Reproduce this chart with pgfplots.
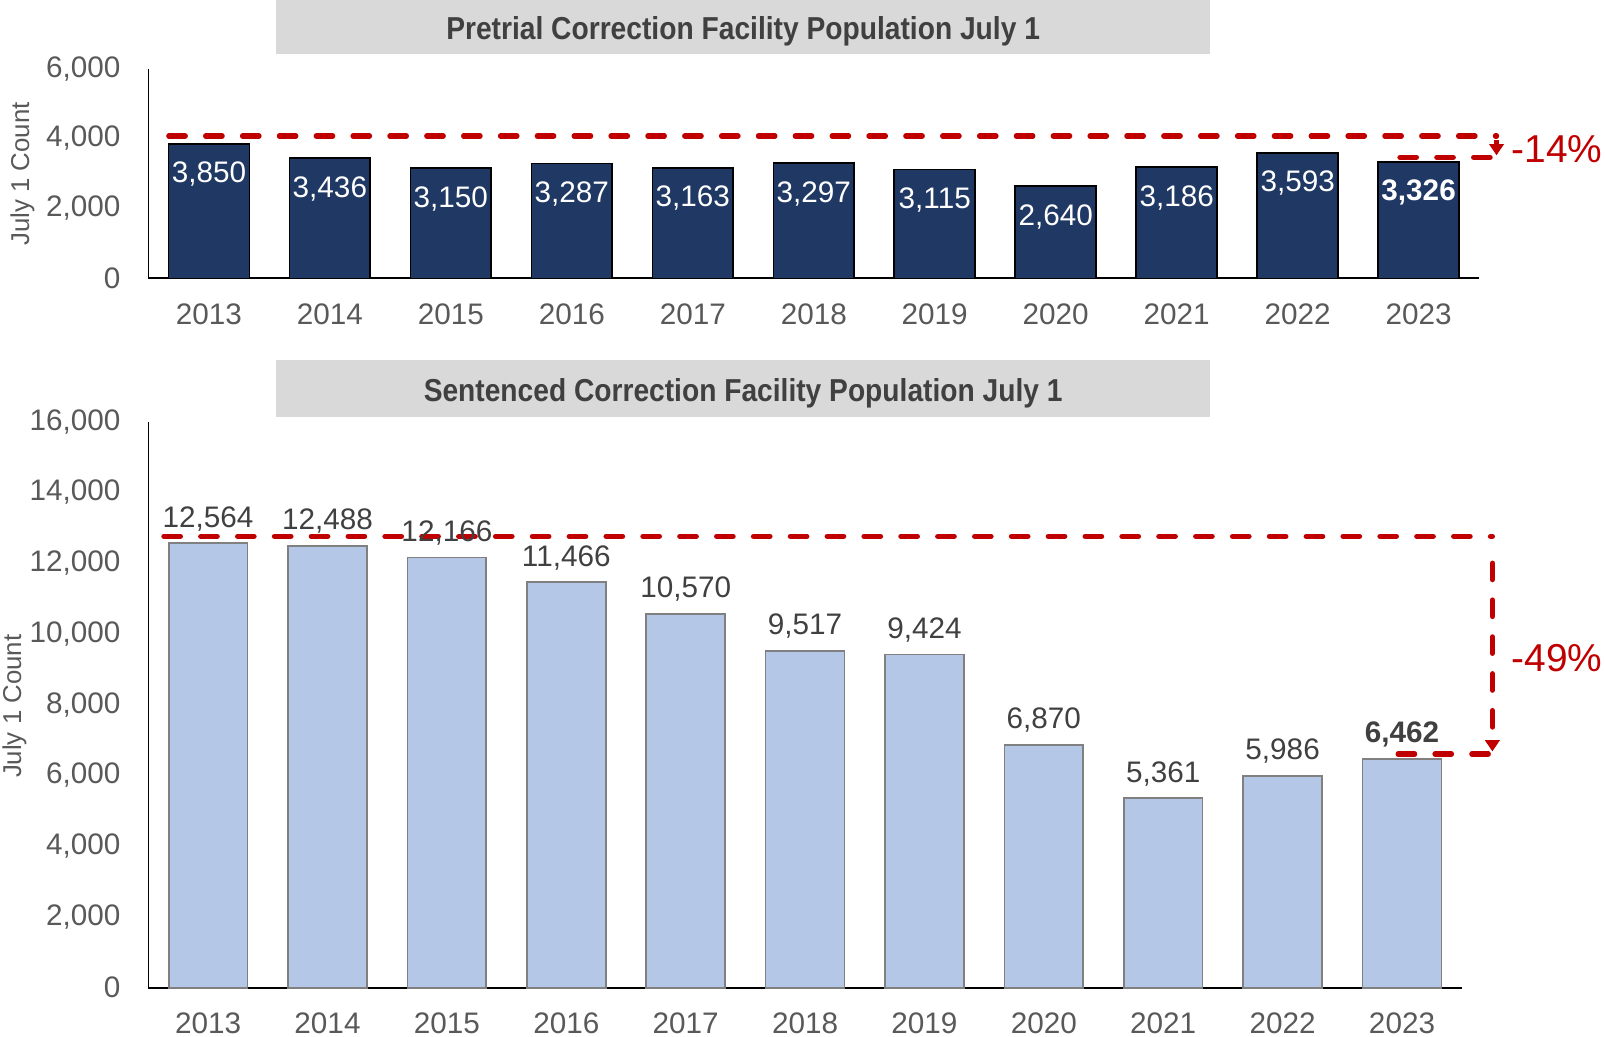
\documentclass[border=0pt]{standalone}
\usepackage{graphicx}
\usepackage{pgfplots}
\pgfplotsset{compat=1.18}
\usepackage{fontspec}
\setmainfont{Liberation Sans}
\usetikzlibrary{arrows.meta}
\definecolor{navy}{HTML}{203864}
\definecolor{lblue}{HTML}{B4C7E7}
\definecolor{dred}{HTML}{C00000}
\definecolor{tgray}{HTML}{595959}
\definecolor{dgray}{HTML}{404040}
\definecolor{boxgray}{HTML}{D9D9D9}
\newcommand{\tickfont}{\fontsize{14.5bp}{17bp}\selectfont}
\tikzset{dline/.style={dred, line width=2.6bp, line cap=round, dash pattern=on 8bp off 10bp}}
\pgfplotsset{
  myaxis/.style={
    scale only axis,
    clip=false,
    axis x line*=bottom, axis y line*=left,
    axis line style={black, line width=0.9bp, -},
    xmin=-0.5, xmax=10.5, ymin=0,
    xtick={0,1,2,3,4,5,6,7,8,9,10},
    xticklabels={2013,2014,2015,2016,2017,2018,2019,2020,2021,2022,2023},
    major tick length=0pt,
    tick label style={font=\tickfont, text=tgray},
    xticklabel style={anchor=center, yshift=-17.5bp},
    yticklabel style={anchor=east, inner sep=0pt, xshift=-13.5bp},
    scaled y ticks=false,
    /pgf/number format/1000 sep={,},
    /pgf/number format/assume math mode=true,
    ybar,
  },
}
\pgfplotstableread{
x top bot
0 3850 12564
1 3436 12488
2 3150 12166
3 3287 11466
4 3163 10570
5 3297 9517
6 3115 9424
7 2640 6870
8 3186 5361
9 3593 5986
}\datatab
\pgfplotstableread{
x top bot
10 3326 6462
}\lasttab
\begin{document}
\begin{tikzpicture}
\path[use as bounding box] (0,0) rectangle (784bp,506.5bp);
% top panel
\fill[boxgray] (135bp,480bp) rectangle (591bp,506.5bp);
\node[text=dgray, inner sep=0pt] at (363bp,491bp) {\resizebox{290bp}{\height}{\fontsize{15.5bp}{18bp}\selectfont\bfseries Pretrial Correction Facility Population July 1}};
\begin{axis}[myaxis,
  at={(72.5bp,370.5bp)}, anchor=south west,
  width=650bp, height=102.5bp,
  ymax=6000, ytick={0,2000,4000,6000},
  bar width=39.5bp,
]
\addplot[fill=navy, draw=black, line width=0.8bp, bar shift=0pt,
  nodes near coords,
  every node near coord/.append style={font=\tickfont, text=white, anchor=center, yshift=-15bp},
] table[x=x, y=top] {\datatab};
\addplot[fill=navy, draw=black, line width=0.8bp, bar shift=0pt,
  nodes near coords,
  every node near coord/.append style={font=\tickfont\bfseries, text=white, anchor=center, yshift=-15bp},
] table[x=x, y=top] {\lasttab};
\draw[dline] (axis cs:-0.331,4071) -- (axis cs:10.644,4071);
\draw[dline] (axis cs:9.846,3462) -- (axis cs:10.644,3462);
\draw[dred, line width=2.6bp, -{Triangle[width=7bp,length=5.5bp]}] (axis cs:10.644,3950) -- (axis cs:10.644,3520);
\end{axis}
\node[text=dred, font=\fontsize{19bp}{22bp}\selectfont] at (760.5bp,433.5bp) {-14\%};
\node[rotate=90, text=tgray, font=\fontsize{12.6bp}{15bp}\selectfont] at (11bp,421.5bp) {July 1 Count};
% bottom panel
\fill[boxgray] (135bp,303bp) rectangle (591bp,330.5bp);
\node[text=dgray, inner sep=0pt] at (363bp,314.5bp) {\resizebox{312bp}{\height}{\fontsize{15.5bp}{18bp}\selectfont\bfseries Sentenced Correction Facility Population July 1}};
\begin{axis}[myaxis,
  at={(72.5bp,24bp)}, anchor=south west,
  width=641.5bp, height=276.5bp,
  ymax=16000, ytick={0,2000,4000,6000,8000,10000,12000,14000,16000},
  bar width=38.5bp,
]
\addplot[fill=lblue, draw=gray, line width=0.8bp, bar shift=0pt,
  nodes near coords,
  every node near coord/.append style={font=\tickfont, text=dgray, anchor=center, yshift=12bp},
] table[x=x, y=bot] {\datatab};
\addplot[fill=lblue, draw=gray, line width=0.8bp, bar shift=0pt,
  nodes near coords,
  every node near coord/.append style={font=\tickfont\bfseries, text=dgray, anchor=center, yshift=12bp},
] table[x=x, y=bot] {\lasttab};
\draw[dline] (axis cs:-0.37,12760) -- (axis cs:10.757,12760);
\draw[dline] (axis cs:9.968,6609) -- (axis cs:10.757,6609);
\draw[dline] (axis cs:10.757,12000) -- (axis cs:10.757,7100);
\draw[dred, line width=2.6bp, -{Triangle[width=7bp,length=5.5bp]}] (axis cs:10.757,7000) -- (axis cs:10.757,6680);
\end{axis}
\node[text=dred, font=\fontsize{19bp}{22bp}\selectfont] at (760.5bp,185bp) {-49\%};
\node[rotate=90, text=tgray, font=\fontsize{12.6bp}{15bp}\selectfont] at (7bp,161.5bp) {July 1 Count};
\end{tikzpicture}
\end{document}
